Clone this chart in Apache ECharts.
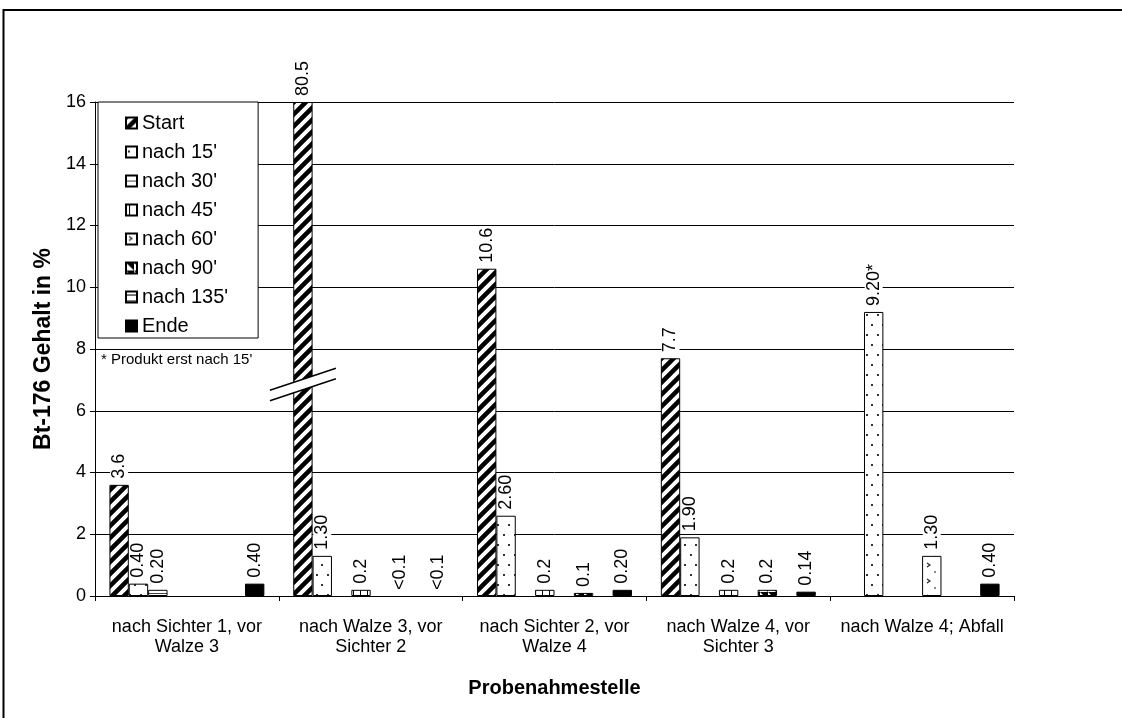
<!DOCTYPE html>
<html>
<head>
<meta charset="utf-8">
<script src="https://cdn.jsdelivr.net/npm/echarts@6/dist/echarts.min.js"></script>
<style>
html,body{margin:0;padding:0;background:#fff;}
#chart{width:1122px;height:718px;}
</style>
</head>
<body>
<div id="chart"></div>
<script>
// ---- data ----
const categories = [
  'nach Sichter 1, vor\nWalze 3',
  'nach Walze 3, vor\nSichter 2',
  'nach Sichter 2, vor\nWalze 4',
  'nach Walze 4, vor\nSichter 3',
  'nach Walze 4; Abfall'
];
const seriesNames = ['Start', "nach 15'", "nach 30'", "nach 45'", "nach 60'", "nach 90'", "nach 135'", 'Ende'];
const valStart = [3.6, 80.5, 10.6, 7.7, null];
const val15    = [0.40, 1.30, 2.60, 1.90, 9.20];
const val30    = [0.20, null, null, null, null];
const val45    = [null, 0.2, 0.2, 0.2, null];
const val60    = [null, null, null, null, 1.30];
const val90    = [null, 0, 0.1, 0.2, null];
const val135   = [null, null, null, null, null];
const valEnde  = [0.40, 0, 0.20, 0.14, 0.40];
const lblStart = ['3.6', '80.5', '10.6', '7.7', null];
const lbl15    = ['0.40', '1.30', '2.60', '1.90', '9.20*'];
const lbl30    = ['0.20', null, null, null, null];
const lbl45    = [null, '0.2', '0.2', '0.2', null];
const lbl60    = [null, null, null, null, '1.30'];
const lbl90    = [null, '<0.1', '0.1', '0.2', null];
const lbl135   = [null, null, null, null, null];
const lblEnde  = ['0.40', '<0.1', '0.20', '0.14', '0.40'];
const yTicks = { min: 0, max: 16, interval: 2 };
const footnote = "* Produkt erst nach 15'";
const yTitle = 'Bt-176 Gehalt in %';
const xTitle = 'Probenahmestelle';

const values = [valStart, val15, val30, val45, val60, val90, val135, valEnde];
const labels = [lblStart, lbl15, lbl30, lbl45, lbl60, lbl90, lbl135, lblEnde];

// ---- patterns ----
function tile(w, h, draw) {
  const c = document.createElement('canvas');
  c.width = w; c.height = h;
  const ctx = c.getContext('2d');
  ctx.fillStyle = '#fff'; ctx.fillRect(0, 0, w, h);
  ctx.fillStyle = '#000'; ctx.strokeStyle = '#000';
  draw(ctx, w, h);
  return c;
}
const patStart = tile(12, 12, (ctx, w, h) => {
  ctx.lineWidth = 4.5;
  ctx.beginPath();
  ctx.moveTo(-2, h + 2); ctx.lineTo(w + 2, -2);
  ctx.moveTo(-2, 2); ctx.lineTo(2, -2);
  ctx.moveTo(w - 2, h + 2); ctx.lineTo(w + 2, h - 2);
  ctx.stroke();
});
const pat15 = tile(11, 20, (ctx) => {
  ctx.fillStyle = '#333';
  ctx.fillRect(2, 4, 2, 2);
  ctx.fillRect(8, 14, 2, 2);
});
const pat30 = tile(8, 7, (ctx) => {
  ctx.fillStyle = '#444';
  ctx.fillRect(0, 5, 8, 1);
});
const pat45 = tile(7, 8, (ctx) => {
  ctx.fillRect(3, 0, 1, 8);
});
const pat60 = tile(14, 16, (ctx) => {
  ctx.lineWidth = 1.2; ctx.strokeStyle = '#222';
  ctx.beginPath();
  ctx.moveTo(3, 3); ctx.lineTo(6, 5); ctx.lineTo(3, 7);
  ctx.stroke();
  ctx.fillStyle = '#888';
  ctx.fillRect(10, 11, 2, 2);
});
const pat90 = tile(8, 8, (ctx) => {
  ctx.beginPath();
  ctx.moveTo(0, 0); ctx.lineTo(8, 0); ctx.lineTo(8, 8); ctx.closePath();
  ctx.fill();
});
const pat135 = tile(6, 6, (ctx) => {
  ctx.fillRect(0, 3, 6, 1);
});
const fills = [
  { image: patStart, repeat: 'repeat' },
  { image: pat15, repeat: 'repeat' },
  { image: pat30, repeat: 'repeat' },
  { image: pat45, repeat: 'repeat' },
  { image: pat60, repeat: 'repeat' },
  { image: pat90, repeat: 'repeat' },
  { image: pat135, repeat: 'repeat' },
  '#000'
];

const FONT = "'Liberation Sans', Arial, sans-serif";

const series = seriesNames.map((name, si) => ({
  name: name,
  type: 'bar',
  barGap: '0%',
  barCategoryGap: '15.7%',
  clip: true,
  itemStyle: { color: fills[si], borderColor: '#000', borderWidth: 1 },
  label: {
    show: true,
    position: 'top',
    rotate: 90,
    align: 'left',
    verticalAlign: 'middle',
    distance: 5,
    fontFamily: FONT,
    fontSize: 18,
    color: '#000',
    backgroundColor: '#fff',
    padding: [0, 1, 0, 1],
    formatter: (p) => labels[si][p.dataIndex] || ''
  },
  emphasis: { disabled: true },
  data: values[si].map((v) => v === null ? null : {
    value: Math.min(v, yTicks.max),
    itemStyle: v === 0 ? { borderWidth: 0 } : undefined
  })
}));

const chart = echarts.init(document.getElementById('chart'), null, { renderer: 'canvas' });
chart.setOption({
  animation: false,
  backgroundColor: '#fff',
  textStyle: { fontFamily: FONT },
  grid: { left: 95, right: 108, top: 102, bottom: 122, containLabel: false },
  title: {
    text: footnote,
    left: 101, top: 352,
    padding: 0,
    textStyle: { fontFamily: FONT, fontSize: 15, fontWeight: 'normal', color: '#000' }
  },
  legend: {
    orient: 'vertical',
    left: 98, top: 102,
    data: seriesNames,
    icon: 'rect',
    itemWidth: 11, itemHeight: 11,
    itemGap: 7,
    padding: [10, 30, 1, 27],
    selectedMode: false,
    backgroundColor: '#fff',
    borderColor: '#000',
    borderWidth: 1,
    textStyle: { fontFamily: FONT, fontSize: 20, color: '#000', lineHeight: 22 }
  },
  xAxis: {
    type: 'category',
    data: categories,
    name: xTitle,
    nameLocation: 'middle',
    nameGap: 82,
    nameTextStyle: { fontFamily: FONT, fontSize: 20, fontWeight: 'bold', color: '#000' },
    axisLine: { lineStyle: { color: '#000', width: 1 } },
    axisTick: { show: true, length: 5, lineStyle: { color: '#000' } },
    axisLabel: { fontFamily: FONT, fontSize: 18, color: '#000', lineHeight: 20, margin: 21, interval: 0 },
    splitLine: { show: false }
  },
  yAxis: {
    type: 'value',
    min: yTicks.min, max: yTicks.max, interval: yTicks.interval,
    name: yTitle,
    nameLocation: 'middle',
    nameGap: 36,
    nameRotate: 90,
    nameTextStyle: { fontFamily: FONT, fontSize: 23, fontWeight: 'bold', color: '#000' },
    axisLine: { show: true, lineStyle: { color: '#000', width: 1 } },
    axisTick: { show: true, length: 5, lineStyle: { color: '#000' } },
    axisLabel: { fontFamily: FONT, fontSize: 18, color: '#000', margin: 9 },
    splitLine: { show: true, lineStyle: { color: '#000', width: 1 } }
  },
  series: series
});

// broken-axis mark on the clipped Start bar of category 2
(function addBreak() {
  let cx;
  try {
    const lay = chart.getModel().getSeriesByIndex(0).getData().getItemLayout(1);
    cx = lay.x + lay.width / 2;
  } catch (e) {
    cx = chart.convertToPixel({ gridIndex: 0 }, [1, 0])[0];
  }
  const cy = chart.convertToPixel({ yAxisIndex: 0 }, 6.85);
  const hw = 33, dy = 11, sep = 5.2;
  chart.setOption({
    graphic: [
      {
        type: 'polygon', z: 100,
        shape: { points: [[cx - hw, cy + dy - sep], [cx + hw, cy - dy - sep], [cx + hw, cy - dy + sep], [cx - hw, cy + dy + sep]] },
        style: { fill: '#fff', stroke: null }
      },
      {
        type: 'line', z: 101,
        shape: { x1: cx - hw, y1: cy + dy - sep, x2: cx + hw, y2: cy - dy - sep },
        style: { stroke: '#000', lineWidth: 1.5 }
      },
      {
        type: 'line', z: 101,
        shape: { x1: cx - hw, y1: cy + dy + sep, x2: cx + hw, y2: cy - dy + sep },
        style: { stroke: '#000', lineWidth: 1.5 }
      },
      {
        type: 'rect', z: 102, silent: true,
        shape: { x: 3.5, y: 10, width: 1300, height: 900 },
        style: { fill: null, stroke: '#000', lineWidth: 2 }
      }
    ]
  });
})();
</script>
</body>
</html>
